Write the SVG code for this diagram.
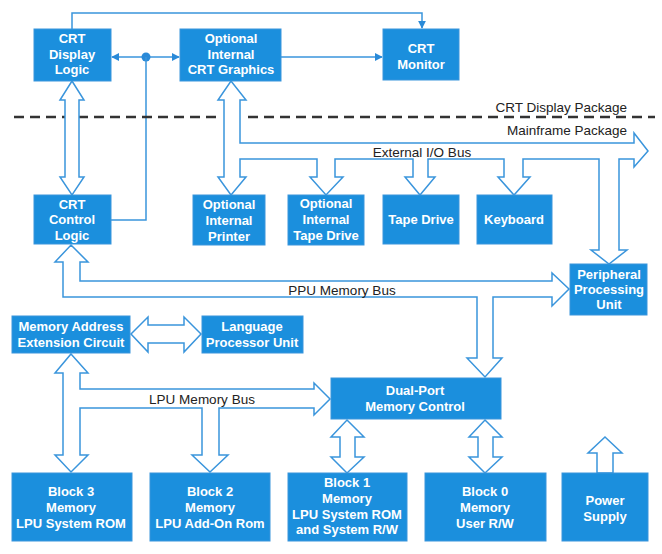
<svg xmlns="http://www.w3.org/2000/svg" width="662" height="554" viewBox="0 0 662 554">
<style>
.b{fill:#1b8fdd;stroke:#3a95dc;stroke-width:1}
.t{font-family:"Liberation Sans",Arial,sans-serif;font-weight:bold;font-size:13px;fill:#fff;text-anchor:middle}
.l{font-family:"Liberation Sans",Arial,sans-serif;font-size:13.5px;fill:#222;text-anchor:middle}
.h{fill:#fff;stroke:#3a95dc;stroke-width:1.5;stroke-linejoin:miter}
.w{fill:none;stroke:#3a95dc;stroke-width:1.5}
</style>
<defs>
<marker id="a" viewBox="0 0 10 10" refX="9" refY="5" markerWidth="8" markerHeight="8" markerUnits="userSpaceOnUse" orient="auto-start-reverse"><path d="M0,0 L10,5 L0,10 Z" fill="#2a8ad8"/></marker>
</defs>
<rect width="662" height="554" fill="#fff"/>
<g id="connectors">
<path class="w" d="M72,29 V13 H422 V28" marker-end="url(#a)"/>
<path class="w" d="M281,57 H382" marker-end="url(#a)"/>
<path class="w" d="M112,57 H179" marker-start="url(#a)" marker-end="url(#a)"/>
<circle cx="146" cy="57" r="4.5" fill="#2a8ad8"/>
<path class="w" d="M146,57 V220 H111"/>
<path d="M14,117 H220 M248,117 H655" stroke="#333" stroke-width="2.5" stroke-dasharray="10,6" fill="none"/>
<path class="h" d="M72,81 L84,100 L79,100 L79,177 L84,177 L72,195 L60,177 L65,177 L65,100 L60,100 Z"/>
<path class="h" d="M224,177 L224,100 L218,100 L231,81 L246,100 L240,100 L240,143 L634,143 L634,133 L648,151 L634,167 L634,159 L619,159 L619,250 L627,250 L609,264 L591,250 L599,250 L599,159 L523,159 L523,177 L530,177 L514,195 L498,177 L504,177 L504,159 L428,159 L428,177 L435,177 L420,195 L405,177 L413,177 L413,159 L335,159 L335,177 L343,177 L326,195 L310,177 L317,177 L317,159 L240,159 L240,177 L246,177 L231,195 L218,177 Z"/>
<path class="h" d="M71,245 L88,262 L80,262 L80,281 L552,281 L552,273 L569,289 L552,306 L552,297 L493,297 L493,358 L502,358 L485,377 L467,358 L477,358 L477,297 L63,297 L63,262 L55,262 Z"/>
<path class="h" d="M71,354 L88,373 L80,373 L80,389 L314,389 L314,383 L330,399 L314,415 L314,408 L219,408 L219,455 L228,455 L210,472 L192,455 L202,455 L202,408 L80,408 L80,455 L88,455 L71,472 L55,455 L63,455 L63,373 L55,373 Z"/>
<path class="h" d="M131,334 L148,317 L148,325 L184,325 L184,317 L201,334 L184,352 L184,343 L148,343 L148,352 Z"/>
<path class="h" d="M347,420 L364,437 L355,437 L355,457 L364,457 L347,473 L331,457 L340,457 L340,437 L331,437 Z"/>
<path class="h" d="M485,420 L502,437 L493,437 L493,457 L502,457 L485,473 L469,457 L478,457 L478,437 L469,437 Z"/>
<path class="h" d="M605,437 L622,453 L613,453 L613,473 L597,473 L597,453 L588,453 Z"/>
<text class="l" x="627" y="112" style="text-anchor:end">CRT Display Package</text>
<text class="l" x="627" y="135" style="text-anchor:end">Mainframe Package</text>
<text class="l" x="422" y="157">External I/O Bus</text>
<text class="l" x="342" y="295">PPU Memory Bus</text>
<text class="l" x="202" y="404">LPU Memory Bus</text>
</g>
<g id="crt-display-logic"><rect class="b" x="34" y="29" width="77" height="52"/><text class="t" x="72" y="43">CRT</text><text class="t" x="72" y="59">Display</text><text class="t" x="72" y="74">Logic</text></g>
<g id="crt-graphics"><rect class="b" x="180" y="29" width="101" height="52"/><text class="t" x="231" y="43">Optional</text><text class="t" x="231" y="59">Internal</text><text class="t" x="231" y="74">CRT Graphics</text></g>
<g id="crt-monitor"><rect class="b" x="383" y="29" width="76" height="51"/><text class="t" x="421" y="53">CRT</text><text class="t" x="421" y="69">Monitor</text></g>
<g id="crt-control-logic"><rect class="b" x="34" y="195" width="77" height="49"/><text class="t" x="72" y="209">CRT</text><text class="t" x="72" y="224">Control</text><text class="t" x="72" y="240">Logic</text></g>
<g id="printer"><rect class="b" x="193" y="195" width="72" height="50"/><text class="t" x="229" y="209">Optional</text><text class="t" x="229" y="225">Internal</text><text class="t" x="229" y="241">Printer</text></g>
<g id="opt-tape"><rect class="b" x="288" y="195" width="76" height="50"/><text class="t" x="326" y="208">Optional</text><text class="t" x="326" y="224">Internal</text><text class="t" x="326" y="240">Tape Drive</text></g>
<g id="tape"><rect class="b" x="383" y="195" width="76" height="49"/><text class="t" x="421" y="224">Tape Drive</text></g>
<g id="keyboard"><rect class="b" x="477" y="195" width="75" height="49"/><text class="t" x="514" y="224">Keyboard</text></g>
<g id="ppu"><rect class="b" x="570" y="264" width="77" height="51"/><text class="t" x="609" y="279">Peripheral</text><text class="t" x="609" y="294">Processing</text><text class="t" x="609" y="309">Unit</text></g>
<g id="maec"><rect class="b" x="12" y="316" width="118" height="37"/><text class="t" x="71" y="331">Memory Address</text><text class="t" x="71" y="347">Extension Circuit</text></g>
<g id="lpu"><rect class="b" x="202" y="316" width="101" height="37"/><text class="t" x="252" y="331">Language</text><text class="t" x="252" y="347">Processor Unit</text></g>
<g id="dual-port"><rect class="b" x="331" y="378" width="170" height="41"/><text class="t" x="415" y="395">Dual-Port</text><text class="t" x="415" y="411">Memory Control</text></g>
<g id="block3"><rect class="b" x="12" y="473" width="120" height="68"/><text class="t" x="71" y="496">Block 3</text><text class="t" x="71" y="512">Memory</text><text class="t" x="71" y="528">LPU System ROM</text></g>
<g id="block2"><rect class="b" x="150" y="473" width="120" height="68"/><text class="t" x="210" y="496">Block 2</text><text class="t" x="210" y="512">Memory</text><text class="t" x="210" y="528">LPU Add-On Rom</text></g>
<g id="block1"><rect class="b" x="288" y="473" width="119" height="68"/><text class="t" x="347" y="487">Block 1</text><text class="t" x="347" y="503">Memory</text><text class="t" x="347" y="519">LPU System ROM</text><text class="t" x="347" y="534">and System R/W</text></g>
<g id="block0"><rect class="b" x="425" y="473" width="121" height="68"/><text class="t" x="485" y="496">Block 0</text><text class="t" x="485" y="512">Memory</text><text class="t" x="485" y="528">User R/W</text></g>
<g id="power"><rect class="b" x="562" y="473" width="86" height="68"/><text class="t" x="605" y="505">Power</text><text class="t" x="605" y="521">Supply</text></g>
</svg>
